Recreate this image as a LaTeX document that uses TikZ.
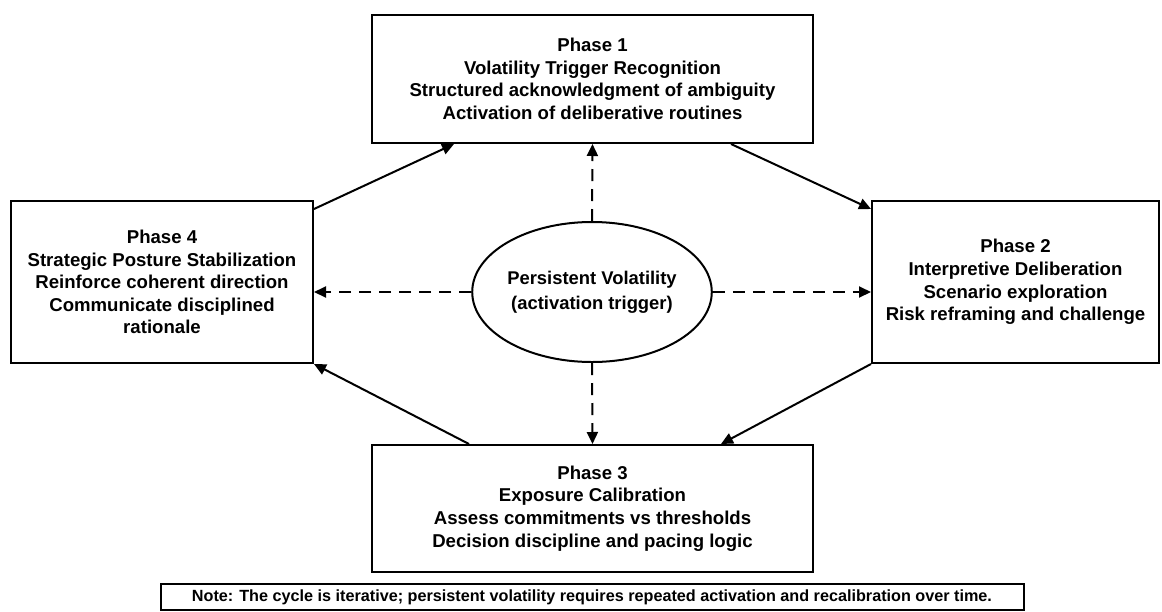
\documentclass[tikz,border=0pt]{standalone}
\usepackage{fontspec}
\setmainfont{Liberation Sans}
\usetikzlibrary{arrows.meta,shapes.geometric}

\tikzset{
  phase/.style={draw, line width=1pt, align=center, inner sep=0pt,
    font=\fontsize{9.3}{11.3}\selectfont\bfseries},
  flow/.style={line width=1pt, -{Triangle[length=6pt,width=5.5pt]}},
  probe/.style={flow, dash pattern=on 6pt off 4pt}
}

\begin{document}
\begin{tikzpicture}[x=0.5pt, y=-0.5pt]
    \useasboundingbox (0,0) rectangle (1162,611);

    % Draw the four phase boxes
    \node[phase, minimum width=220.5pt, minimum height=64pt] (p1) at (592.5, 79)
        {Phase 1\\Volatility Trigger Recognition\\Structured acknowledgment of ambiguity\\Activation of deliberative routines};
    \node[phase, minimum width=143.5pt, minimum height=81pt] (p2) at (1015.5, 282)
        {Phase 2\\Interpretive Deliberation\\Scenario exploration\\Risk reframing and challenge};
    \node[phase, minimum width=220.5pt, minimum height=63.5pt] (p3) at (592.5, 508.5)
        {Phase 3\\Exposure Calibration\\Assess commitments vs thresholds\\Decision discipline and pacing logic};
    \node[phase, minimum width=151pt, minimum height=81pt] (p4) at (162, 282)
        {Phase 4\\Strategic Posture Stabilization\\Reinforce coherent direction\\Communicate disciplined\\rationale};

    % Draw the trigger in the middle
    \node[phase, ellipse, minimum width=117.5pt, minimum height=70pt,
        font=\fontsize{9.2}{12.5}\selectfont\bfseries] (vol) at (592, 292)
        {Persistent Volatility\\(activation trigger)};

    % Draw the cycle
    \draw[flow] ([yshift=-4.5pt]p4.north east) -- ([xshift=41.5pt]p1.south west);
    \draw[flow] ([xshift=-41.5pt]p1.south east) -- ([yshift=-4.5pt]p2.north west);
    \draw[flow] (p2.south west) -- ([xshift=-46.5pt]p3.north east);
    \draw[flow] ([xshift=49pt]p3.north west) -- (p4.south east);

    % Draw the dashed links from the trigger
    \draw[probe] (vol.north) -- (p1.south);
    \draw[probe] (vol.east) -- (vol.east -| p2.west);
    \draw[probe] (vol.south) -- (p3.north);
    \draw[probe] (vol.west) -- (vol.west -| p4.east);

    % Draw the note
    \node[draw, line width=1pt, minimum width=431.5pt, minimum height=13pt, inner sep=0pt,
        font=\fontsize{8.1}{10}\selectfont\bfseries] (note) at (592, 597)
        {Note: The cycle is iterative; persistent volatility requires repeated activation and recalibration over time.};
\end{tikzpicture}
\end{document}
